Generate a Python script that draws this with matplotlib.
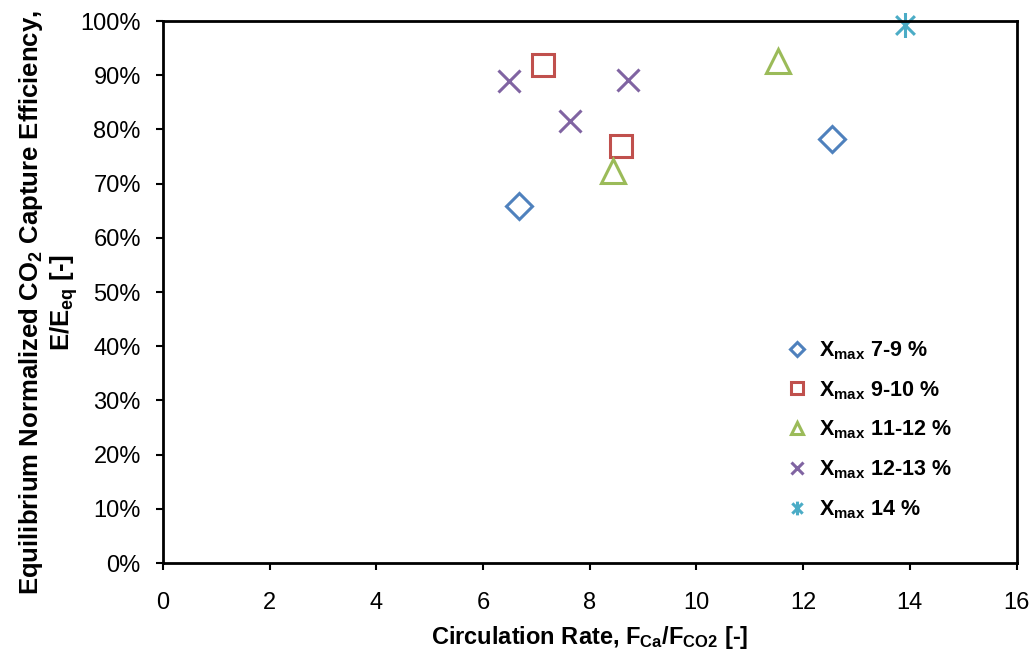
import numpy as np
import matplotlib
matplotlib.use("Agg")
from matplotlib import pyplot as plt
from matplotlib.path import Path
from matplotlib.ticker import PercentFormatter

plt.rcParams["font.family"] = ["Liberation Sans", "DejaVu Sans"]
plt.rcParams["mathtext.default"] = "regular"

# data
labels = ["X$_{max}$ 7-9 %", "X$_{max}$ 9-10 %", "X$_{max}$ 11-12 %",
          "X$_{max}$ 12-13 %", "X$_{max}$ 14 %"]
x_vals = [[6.67, 12.55], [7.12, 8.58], [8.43, 11.52], [6.48, 7.63, 8.71], [13.9]]
y_vals = [[0.659, 0.782], [0.919, 0.769], [0.723, 0.926], [0.889, 0.815, 0.891], [0.993]]
colors = ["#4F81BD", "#C0504D", "#9BBB59", "#8064A2", "#4BACC6"]

# excel-like star: x plus vertical bar
star = Path([(0, -1), (0, 1), (-0.75, -0.75), (0.75, 0.75), (-0.75, 0.75), (0.75, -0.75)],
            [Path.MOVETO, Path.LINETO, Path.MOVETO, Path.LINETO, Path.MOVETO, Path.LINETO])
markers = ["D", "s", "^", "x", star]
sizes = [13, 16, 17, 16, 18]

fig = plt.figure(figsize=(10.32, 6.57), dpi=100)
ax = fig.add_axes([0.158, 0.143, 0.827, 0.825])

for xs, ys, m, c, s, lab in zip(x_vals, y_vals, markers, colors, sizes, labels):
    ax.plot(xs, ys, linestyle="none", marker=m, markersize=s, markerfacecolor="none",
            markeredgecolor=c, markeredgewidth=2.2, label=lab, clip_on=False)

ax.set_xlim(0, 16)
ax.set_ylim(0, 1)
ax.set_xticks(np.arange(0, 17, 2))
ax.set_yticks(np.arange(0, 1.01, 0.1))
ax.yaxis.set_major_formatter(PercentFormatter(1.0, decimals=0))
ax.tick_params(direction="out", length=5, width=1.5, labelsize=17)
ax.tick_params(axis="x", pad=16)
ax.tick_params(axis="y", pad=11)
for sp in ax.spines.values():
    sp.set_linewidth(2)

ax.set_xlabel("Circulation Rate, F$_{Ca}$/F$_{CO2}$ [-]", fontsize=17, fontweight="bold")
ax.xaxis.set_label_coords(0.5, -0.113)
ax.set_ylabel("Equilibrium Normalized CO$_2$ Capture Efficiency,\nE/E$_{eq}$ [-]",
              fontsize=18.5, fontweight="bold", linespacing=1.15)
ax.yaxis.set_label_coords(-0.097, 0.48)

leg = ax.legend(loc="upper left", bbox_to_anchor=(0.728, 0.413), frameon=False, markerscale=0.55,
                prop={"size": 15.5, "weight": "bold"}, labelspacing=0.8, handletextpad=0.42,
                handlelength=1.2, borderpad=0, borderaxespad=0)

fig.savefig("out.png", dpi=100)
